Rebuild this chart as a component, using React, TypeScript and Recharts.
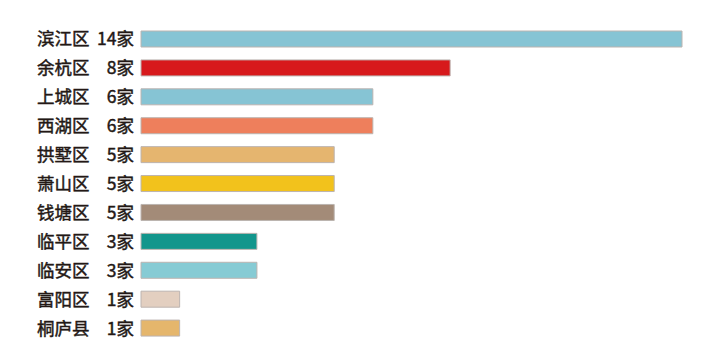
import React from 'react'
import { BarChart, Bar, XAxis, YAxis, Cell } from 'recharts'

const districts = ['滨江区', '余杭区', '上城区', '西湖区', '拱墅区', '萧山区', '钱塘区', '临平区', '临安区', '富阳区', '桐庐县']
const counts = [14, 8, 6, 6, 5, 5, 5, 3, 3, 1, 1]
const barColors = ['#86c4d4', '#d7191c', '#86c4d4', '#ee7f5c', '#e5b56f', '#f2c21c', '#a38b78', '#12968c', '#86cbd4', '#e3cfc0', '#e5b66c']

const data = districts.map((name, i) => ({ name, count: counts[i] }))

const font = '"Noto Sans CJK SC", "Noto Sans", sans-serif'

// regular weight plus a hairline stroke, to get close to a medium weight
const labelStyle = {
  fontSize: 17.5,
  fontFamily: font,
  fill: '#231815',
  stroke: '#231815',
  strokeWidth: 0.45,
}

function DistrictTick(props: any) {
  const { y, payload, index } = props
  return (
    <g>
      <text x={37} y={y} dy={6} {...labelStyle} textAnchor="start">
        {payload.value}
      </text>
      <text x={134} y={y} dy={6} {...labelStyle} textAnchor="end">
        {counts[index]}家
      </text>
    </g>
  )
}

export default function App() {
  return (
    <div style={{ position: 'absolute', left: 0, top: 0, width: 720, height: 354, background: '#fff' }}>
      <BarChart
        width={720}
        height={354}
        data={data}
        layout="vertical"
        margin={{ top: 25, right: 38, bottom: 11, left: 0 }}
      >
        <XAxis type="number" domain={[0, 14]} hide />
        <YAxis
          type="category"
          dataKey="name"
          width={141}
          axisLine={false}
          tickLine={false}
          tick={<DistrictTick />}
          interval={0}
        />
        <Bar dataKey="count" barSize={16} isAnimationActive={false} stroke="#bcb4b0" strokeWidth={1}>
          {data.map((d, i) => (
            <Cell key={d.name} fill={barColors[i]} />
          ))}
        </Bar>
      </BarChart>
    </div>
  )
}
